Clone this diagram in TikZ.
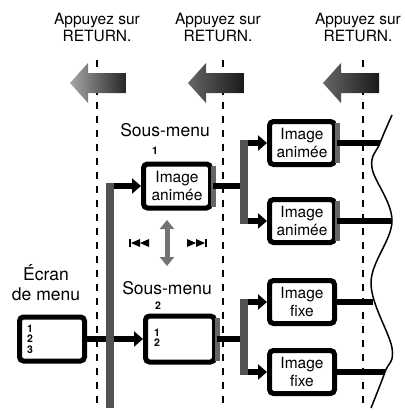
\documentclass[tikz,border=0pt]{standalone}
\usepackage{fontspec}
\setmainfont{TeX Gyre Heros}
\usetikzlibrary{arrows.meta}

% return arrow: tip x, centre y, left and right shade
\newcommand\retarrow[4]{%
  \shade[left color=#3, right color=#4] (#1,#2) -- ++(18,-20) -- ++(0,10) -- ++(38,0)
    -- ++(0,20) -- ++(-38,0) -- ++(0,10) -- cycle;}

\begin{document}
\begin{tikzpicture}[x=1pt,y=-1pt,
  every node/.style={inner sep=0pt, align=center},
  bigtxt/.style={font=\fontsize{17.5}{20}\selectfont},
  toptxt/.style={font=\fontsize{15.5}{17}\selectfont},
  smalltxt/.style={font=\fontsize{10.5}{10.5}\selectfont\bfseries},
  scrbox/.style={draw, line width=5pt, rounded corners=4pt,
    minimum width=65pt, minimum height=43pt, font=\fontsize{15.5}{18}\selectfont},
  edgeshade/.style={line width=5pt, black!60},
  dashl/.style={line width=2.5pt, dash pattern=on 7pt off 7pt},
  conn/.style={line width=6pt},
  arr/.style={conn, -{Triangle[length=9pt,width=15pt]}},
  stip/.style={line width=7.5pt, black!68}]

\useasboundingbox (0,0) rectangle (404,412);

% dashed borders
\draw[dashl] (97,60) -- (97,410);
\draw[dashl] (223,60) -- (223,410);
\draw[dashl] (363,60) -- (363,410);

% RETURN labels and arrows
\node[toptxt] (ret1) at (97,27) {Appuyez sur\\RETURN.};
\node[toptxt] (ret2) at (218,27) {Appuyez sur\\RETURN.};
\node[toptxt] (ret3) at (358,27) {Appuyez sur\\RETURN.};
\retarrow{70}{83}{black!35}{black!85}
\retarrow{188}{83}{black!60}{black!90}
\retarrow{323}{83}{black!60}{black!90}

% menu screen
\node[bigtxt] (ecranlbl) at (46,283) {Écran\\de menu};
\node[scrbox, minimum height=44pt] (ecran) at (52,339) {};
\node[smalltxt, align=left] (ecranit) at (30,339) {1\\2\\3};

% sub-menus
\node[bigtxt] (sm1lbl) at (165,130) {Sous-menu};
\node[smalltxt] (sm1num) at (155,151) {1};
\node[scrbox, minimum width=67pt, minimum height=44pt] (sm1) at (177,186) {Image\\animée};
\node[bigtxt] (sm2lbl) at (167,288) {Sous-menu};
\node[smalltxt] (sm2num) at (158,306) {2};
\node[scrbox, minimum width=69pt, minimum height=46pt] (sm2) at (180,339) {};
\node[smalltxt, align=left] (sm2it) at (157,338) {1\\2};

% images
\node[scrbox] (imA) at (302,143) {Image\\animée};
\node[scrbox] (imB) at (302,221) {Image\\animée};
\node[scrbox] (imC) at (302,302) {Image\\fixe};
\node[scrbox] (imD) at (302,372) {Image\\fixe};

\foreach \b in {sm1,sm2,imA,imB}
  \draw[edgeshade] ([yshift=4pt]\b.south east) -- ([yshift=-4pt]\b.north east);

% connectors
\coordinate (bartop) at (110,186);
\coordinate (brA) at (244,143);
\coordinate (brB) at (244,221);
\coordinate (brC) at (244,302);
\coordinate (brD) at (244,372);
\coordinate (wA) at (380,143);
\coordinate (wB) at (392,221);
\coordinate (wC) at (373,302);
\coordinate (wD) at (385,372);

\draw[arr] (bartop) -- (sm1.west);
\draw[arr] (ecran.east) -- (sm2.west);
\draw[conn] (sm1.east) -- (sm1.east -| brA);
\draw[conn] (sm2.east) -- (sm2.east -| brC);
\draw[arr] (brA) -- (imA.west);
\draw[arr] (brB) -- (imB.west);
\draw[arr] (brC) -- (imC.west);
\draw[arr] (brD) -- (imD.west);
\draw[conn] (imA.east) -- (wA);
\draw[conn] (imB.east) -- (wB);
\draw[conn] (imC.east) -- (wC);
\draw[conn] (imD.east) -- (wD);

\draw[stip] (110,183) -- (110,408);
\draw[stip] ([yshift=3pt]brA) -- ([yshift=-3pt]brB);
\draw[stip] ([yshift=3pt]brC) -- ([yshift=-3pt]brD);

% cut edge
\draw[line width=1.5pt] plot[smooth, tension=0.6] coordinates
  {(392,115) (wA) (372,168) (wB) (371,283) (392,348) (wD) (371,408)};

% scrolling hints
\draw[line width=5pt, black!55, {Triangle[length=9pt,width=14pt]}-{Triangle[length=9pt,width=14pt]}]
  (167,220) -- (167,266);
\fill (129,239) rectangle (131,247);
\fill (131,243) -- (140,239) -- (140,247) -- cycle;
\fill (140,243) -- (149,239) -- (149,247) -- cycle;
\fill (205,243) -- (196,239) -- (196,247) -- cycle;
\fill (196,243) -- (187,239) -- (187,247) -- cycle;
\fill (205,239) rectangle (207,247);
\end{tikzpicture}
\end{document}
